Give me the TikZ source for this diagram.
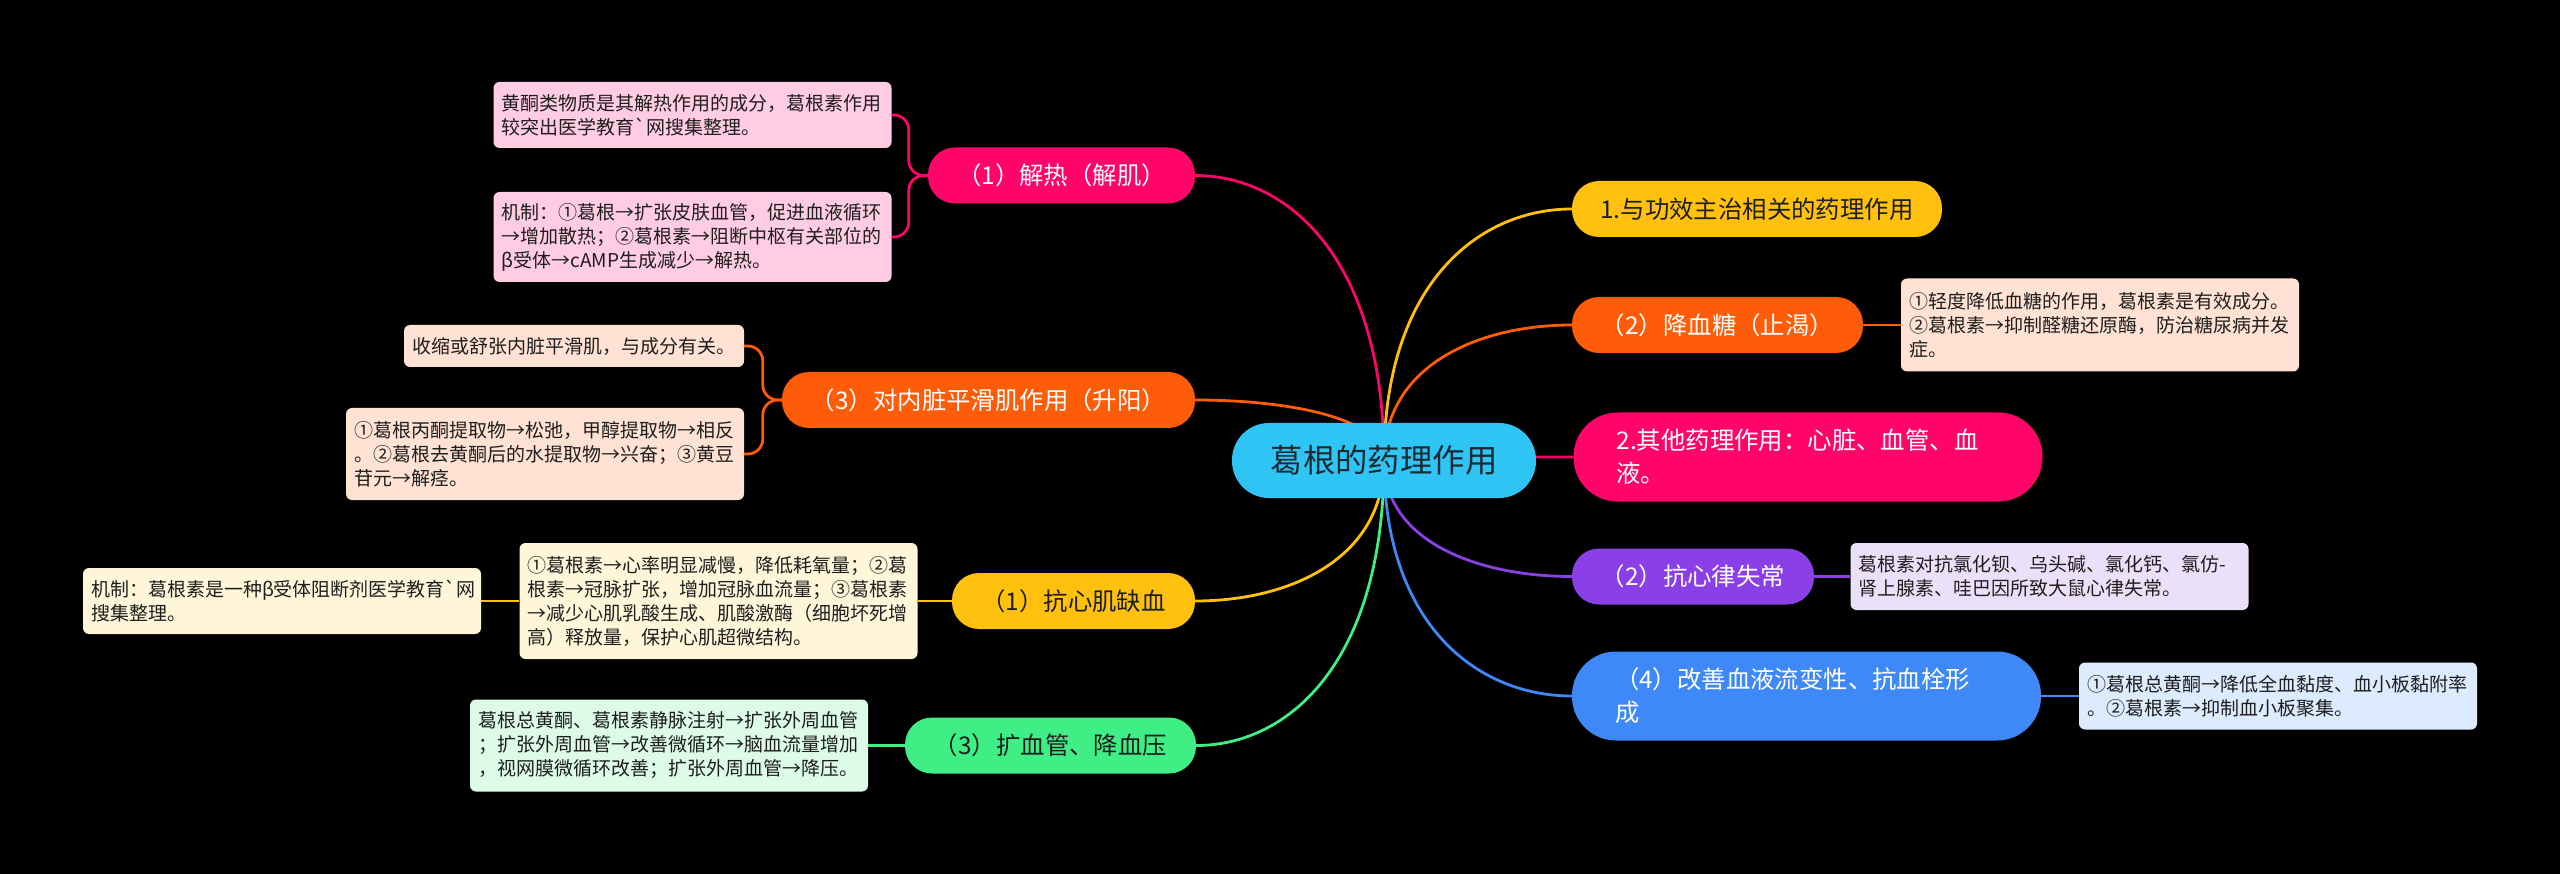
\documentclass[tikz,border=0pt]{standalone}
\usepackage{fontspec}
\newfontfamily\zh{Noto Sans CJK SC}
\usetikzlibrary{calc}
\pgfdeclarelayer{bg}\pgfdeclarelayer{lines}
\pgfsetlayers{bg,lines,main}
\definecolor{cyanc}{RGB}{46,197,245}
\definecolor{ctext}{RGB}{28,42,52}
\definecolor{pinkc}{RGB}{255,5,105}
\definecolor{pinkl}{RGB}{255,204,226}
\definecolor{orangec}{RGB}{255,92,10}
\definecolor{orangel}{RGB}{255,226,211}
\definecolor{yellowc}{RGB}{255,193,13}
\definecolor{yellowl}{RGB}{255,246,218}
\definecolor{greenc}{RGB}{64,238,134}
\definecolor{greenl}{RGB}{220,252,232}
\definecolor{purplec}{RGB}{139,63,230}
\definecolor{purplel}{RGB}{235,224,250}
\definecolor{bluec}{RGB}{63,136,247}
\definecolor{bluel}{RGB}{221,235,254}
\definecolor{dtext}{RGB}{30,30,30}
\newcommand\mmbranch[3]{%
  \coordinate (mmk) at (c.center |- #2.#3);
  \draw[conn,#1] (c.center) .. controls ($(mmk)!0.3!(c.center)$) and ($(#2.#3)!0.5!(mmk)$) .. (#2.#3);}
\tikzset{
  conn/.style={line width=2.8pt},
  root/.style={fill=cyanc, text=ctext, rounded corners=37, inner sep=0, minimum width=304, minimum height=75, font=\zh\fontsize{32.4}{40}\selectfont},
  lvl/.style={rounded corners=27, inner sep=0, minimum height=56, font=\zh\fontsize{24.4}{33}\selectfont},
  lvltwo/.style={rounded corners=44, inner xsep=43, inner ysep=0, text width=383, align=left, minimum height=89, font=\zh\fontsize{24.4}{33}\selectfont},
  det/.style={rounded corners=6, inner sep=0, align=left, text=dtext, font=\zh\fontsize{19}{24}\selectfont},
  wide/.style={text width=382, minimum width=398},
  bracket/.style={conn, rounded corners=15},
}
\begin{document}
\begin{tikzpicture}[x=1pt,y=-1pt]
\useasboundingbox (0,0) rectangle (2560,874);
\begin{pgfonlayer}{bg}
\fill[black] (0,0) rectangle (2560,874);
\end{pgfonlayer}

\node[root] (c) at (1384,460.5) {葛根的药理作用};

\node[lvl, fill=pinkc, text=white, minimum width=267] (L1) at (1061.5,175.5) {（1）解热（解肌）};
\node[lvl, fill=orangec, text=white, minimum width=413] (L2) at (988.5,400) {（3）对内脏平滑肌作用（升阳）};
\node[lvl, fill=yellowc, text=dtext, minimum width=243] (L3) at (1073.5,601) {（1）抗心肌缺血};
\node[lvl, fill=greenc, text=dtext, minimum width=291] (L4) at (1050.5,745.5) {（3）扩血管、降血压};
\node[lvl, fill=yellowc, text=dtext, minimum width=370] (R1) at (1757,209) {1.与功效主治相关的药理作用};
\node[lvl, fill=orangec, text=white, minimum width=291] (R2) at (1717.5,325) {（2）降血糖（止渴）};
\node[lvltwo, fill=pinkc, text=white] (R3) at (1808,457) {2.其他药理作用：心脏、血管、血\\液。};
\node[lvl, fill=purplec, text=white, minimum width=242] (R4) at (1693,576.5) {（2）抗心律失常};
\node[lvltwo, fill=bluec, text=white] (R5) at (1806.5,696) {（4）改善血液流变性、抗血栓形\\成};

\node[det, wide, fill=pinkl, minimum height=66] (dL1a) at (692.5,115) {黄酮类物质是其解热作用的成分，葛根素作用\\较突出医学教育\textasciigrave 网搜集整理。};
\node[det, wide, fill=pinkl, minimum height=90] (dL1b) at (692.5,237) {机制：①葛根→扩张皮肤血管，促进血液循环\\→增加散热；②葛根素→阻断中枢有关部位的\\β受体→cAMP生成减少→解热。};
\node[det, fill=orangel, minimum width=340, minimum height=42] (dL2a) at (574,346) {收缩或舒张内脏平滑肌，与成分有关。};
\node[det, wide, fill=orangel, minimum height=92] (dL2b) at (545,454) {①葛根丙酮提取物→松弛，甲醇提取物→相反\\。②葛根去黄酮后的水提取物→兴奋；③黄豆\\苷元→解痉。};
\node[det, wide, fill=yellowl, minimum height=116] (dL3a) at (718.5,601) {①葛根素→心率明显减慢，降低耗氧量；②葛\\根素→冠脉扩张，增加冠脉血流量；③葛根素\\→减少心肌乳酸生成、肌酸激酶（细胞坏死增\\高）释放量，保护心肌超微结构。};
\node[det, wide, fill=yellowl, minimum height=66] (dL3b) at (282,601) {机制：葛根素是一种β受体阻断剂医学教育\textasciigrave 网\\搜集整理。};
\node[det, wide, fill=greenl, minimum height=92] (dL4) at (669,745.5) {葛根总黄酮、葛根素静脉注射→扩张外周血管\\；扩张外周血管→改善微循环→脑血流量增加\\，视网膜微循环改善；扩张外周血管→降压。};
\node[det, wide, fill=orangel, minimum height=93] (dR2) at (2100,325) {①轻度降低血糖的作用，葛根素是有效成分。\\②葛根素→抑制醛糖还原酶，防治糖尿病并发\\症。};
\node[det, wide, fill=purplel, minimum height=67] (dR4) at (2049.5,576.5) {葛根素对抗氯化钡、乌头碱、氯化钙、氯仿-\\肾上腺素、哇巴因所致大鼠心律失常。};
\node[det, wide, fill=bluel, minimum height=67] (dR5) at (2278,696) {①葛根总黄酮→降低全血黏度、血小板黏附率\\。②葛根素→抑制血小板聚集。};

\begin{pgfonlayer}{lines}
\mmbranch{pinkc}{L1}{east}
\mmbranch{orangec}{L2}{east}
\mmbranch{yellowc}{L3}{east}
\mmbranch{greenc}{L4}{east}
\mmbranch{yellowc}{R1}{west}
\mmbranch{orangec}{R2}{west}
\mmbranch{pinkc}{R3}{west}
\mmbranch{purplec}{R4}{west}
\mmbranch{bluec}{R5}{west}
\draw[bracket,pinkc] (L1.west) -- ++(-19,0) |- (dL1a.east);
\draw[bracket,pinkc] (L1.west) -- ++(-19,0) |- (dL1b.east);
\draw[bracket,orangec] (L2.west) -- ++(-19,0) |- (dL2a.east);
\draw[bracket,orangec] (L2.west) -- ++(-19,0) |- (dL2b.east);
\draw[conn,yellowc] (L3.west) -- (dL3a.east);
\draw[conn,yellowc] (dL3a.west) -- (dL3b.east);
\draw[conn,greenc] (L4.west) -- (dL4.east);
\draw[conn,orangec] (R2.east) -- (dR2.west);
\draw[conn,purplec] (R4.east) -- (dR4.west);
\draw[conn,bluec] (R5.east) -- (dR5.west);
\end{pgfonlayer}
\end{tikzpicture}
\end{document}
